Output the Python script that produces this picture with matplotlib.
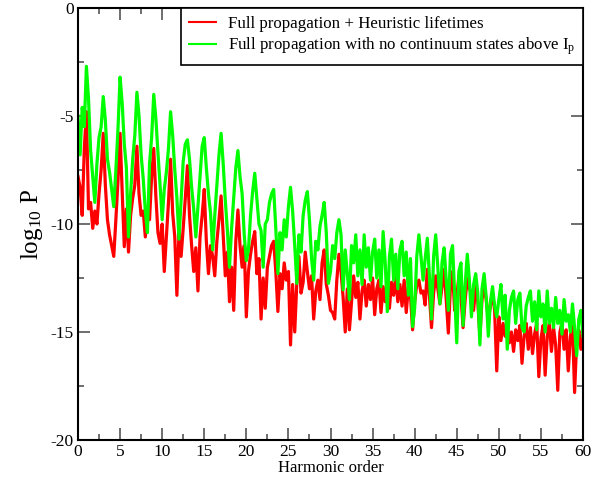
import numpy as np
import matplotlib
matplotlib.use("Agg")
import matplotlib.pyplot as plt
from matplotlib.ticker import MultipleLocator

plt.rcParams['font.family'] = ['Liberation Serif', 'DejaVu Serif']
plt.rcParams['mathtext.fontset'] = 'custom'
plt.rcParams['mathtext.rm'] = 'Liberation Serif'
plt.rcParams['mathtext.it'] = 'Liberation Serif:italic'
plt.rcParams['axes.unicode_minus'] = False

# log10 P, sampled every 0.25 harmonic order from 0 to 60
green = [
    -5.0, -6.8, -4.6, -5.5, -2.7, -4.2, -6.6, -7.8,
    -9.0, -7.2, -6.0, -5.5, -4.1, -5.2, -7.0, -7.6,
    -8.4, -9.2, -7.5, -5.6, -3.2, -4.4, -6.3, -7.4,
    -10.6, -8.6, -7.0, -5.9, -3.9, -5.0, -6.8, -7.9,
    -9.4, -10.4, -7.2, -6.0, -4.0, -5.1, -6.7, -8.2,
    -9.8, -8.4, -7.6, -6.5, -4.8, -5.9, -7.5, -8.8,
    -10.7, -8.9, -7.1, -6.3, -6.1, -7.0, -8.3, -9.3,
    -10.6, -9.2, -7.8, -6.4, -6.0, -7.4, -8.6, -9.5,
    -11.2, -9.6, -8.2, -6.8, -5.8, -7.2, -8.9, -10.3,
    -12.0, -10.2, -8.8, -7.4, -6.6, -7.8, -8.6, -10.5,
    -11.7, -11.2, -9.6, -8.5, -7.65, -8.8, -10.0, -10.3,
    -12.0, -10.0, -9.8, -9.0, -8.6, -8.4, -10.2, -12.3,
    -10.4, -11.2, -9.8, -10.6, -9.2, -8.3, -9.4, -11.0,
    -12.75, -10.5, -11.3, -9.6, -8.9, -8.5, -9.8, -11.6,
    -12.6, -10.8, -11.2, -10.1, -9.6, -9.0, -10.4, -12.75,
    -12.2, -11.0, -11.6, -10.4, -9.8, -10.5, -13.05, -11.2,
    -12.3, -13.5, -11.0, -11.8, -10.5, -12.4, -11.2, -12.8,
    -10.5, -12.0, -11.1, -12.6, -11.3, -10.7, -12.5, -11.2,
    -12.9, -10.35, -11.8, -14.06, -11.5, -10.7, -12.6, -11.4,
    -13.0, -11.2, -10.8, -12.4, -11.3, -13.3, -11.6, -14.75,
    -13.9, -11.5, -10.5, -11.5, -12.6, -11.6, -10.66, -12.4,
    -14.4, -11.5, -10.5, -12.0, -13.7, -11.8, -11.1, -12.6,
    -14.0, -11.4, -11.0, -13.2, -15.5, -12.2, -11.8, -14.7,
    -12.8, -11.4, -12.6, -14.3, -12.8, -12.3, -13.2, -15.6,
    -13.0, -12.3, -13.4, -15.2, -13.6, -12.9, -13.8, -14.3,
    -13.5, -12.8, -14.4, -13.3, -15.8, -14.0, -13.4, -13.1,
    -14.6, -13.5, -13.2, -14.8, -15.0, -13.8, -13.4, -13.1,
    -14.5, -13.6, -14.9, -13.1, -14.3, -13.7, -15.0, -13.1,
    -14.6, -13.9, -14.8, -13.4, -14.6, -14.0, -15.1, -13.5,
    -14.5, -14.2, -15.0, -13.7, -14.8, -16.1, -14.4, -14.0,
    -15.2,
]

red = [
    -7.8, -8.3, -9.6, -6.5, -4.8, -9.3, -9.0, -10.2,
    -9.4, -10.0, -8.6, -7.5, -5.8, -8.2, -9.8, -10.5,
    -11.0, -11.5, -9.8, -8.0, -5.8, -8.5, -11.05, -9.3,
    -11.3, -9.6, -8.8, -8.2, -6.4, -8.6, -9.6, -9.4,
    -10.6, -9.2, -9.8, -7.8, -6.5, -8.7, -10.4, -10.9,
    -10.0, -12.2, -10.6, -9.0, -7.0, -9.5, -10.6, -13.3,
    -10.4, -11.5, -10.2, -8.8, -7.3, -9.6, -11.0, -12.2,
    -11.1, -13.1, -10.6, -9.6, -8.4, -10.8, -12.3, -11.0,
    -11.5, -12.4, -10.8, -9.8, -8.7, -10.5, -12.4, -11.3,
    -13.6, -12.0, -14.0, -10.8, -9.35, -11.0, -12.0, -11.0,
    -14.3, -12.2, -11.4, -10.8, -10.35, -12.3, -11.6, -14.4,
    -12.5, -13.9, -12.0, -11.5, -11.0, -10.8, -12.2, -14.05,
    -12.3, -13.0, -11.8, -12.6, -12.2, -15.6, -12.8, -15.0,
    -12.7, -11.5, -13.2, -12.7, -11.3, -12.2, -13.0, -12.4,
    -14.4, -13.1, -12.6, -13.5, -11.8, -11.2, -12.8, -13.3,
    -14.0, -14.1, -14.4, -12.6, -11.4, -12.2, -13.4, -15.0,
    -13.0, -14.9, -13.6, -12.4, -13.4, -12.7, -14.4, -13.1,
    -12.6, -13.8, -12.8, -13.5, -12.5, -14.2, -13.0, -12.6,
    -14.1, -12.9, -13.6, -12.6, -13.9, -12.7, -13.3, -12.5,
    -13.6, -12.8, -13.8, -12.6, -14.1, -12.9, -13.3, -14.9,
    -13.6, -12.8, -12.6, -13.2, -13.1, -13.75, -12.1, -13.3,
    -14.8, -13.2, -12.4, -13.0, -13.7, -12.9, -12.1, -13.5,
    -15.05, -12.9, -12.2, -14.0, -13.4, -12.4, -13.3, -14.8,
    -13.5, -12.5, -13.0, -13.2, -14.0, -12.9, -13.6, -15.2,
    -13.5, -12.9, -13.5, -14.4, -13.8, -13.2, -14.0, -16.8,
    -14.3, -15.4, -14.6, -15.2, -14.7, -15.5, -15.0, -15.9,
    -14.9, -15.4, -14.7, -16.45, -15.2, -14.6, -15.8, -14.8,
    -16.0, -15.1, -14.6, -17.07, -15.3, -14.7, -17.0, -15.2,
    -14.6, -15.9, -14.8, -15.6, -17.7, -15.0, -14.6, -15.8,
    -14.9, -16.8, -15.2, -14.7, -17.8, -15.4, -14.9, -15.8,
    -15.0,
]

harm_green = np.linspace(0, 60, len(green))
harm_red = np.linspace(0, 60, len(red))

fig = plt.figure(figsize=(5.94, 4.86), dpi=100)
ax = fig.add_axes([0.1313, 0.0947, 0.8502, 0.8888])

ax.plot(harm_red, red, color='#ff0000', lw=2.3,
        label='Full propagation + Heuristic lifetimes')
ax.plot(harm_green, green, color='#00ff00', lw=2.3,
        label='Full propagation with no continuum states above I$_\\mathrm{p}$')

ax.set_xlim(0, 60)
ax.set_ylim(-20, 0)
ax.xaxis.set_major_locator(MultipleLocator(5))
ax.xaxis.set_minor_locator(MultipleLocator(2.5))
ax.yaxis.set_major_locator(MultipleLocator(5))
ax.yaxis.set_minor_locator(MultipleLocator(2.5))
ax.tick_params(which='both', direction='in', top=True, right=True,
               labelsize=12.5, color='#555555', width=1.2)
ax.tick_params(which='major', length=8.5, pad=3)
ax.tick_params(which='minor', length=4.5)
for s in ax.spines.values():
    s.set_linewidth(1.5)

ax.set_xlabel('Harmonic order', fontsize=12, labelpad=0)
ax.set_ylabel('log$_{10}$ P', fontsize=18, labelpad=4)

leg = ax.legend(loc='upper right', fontsize=12.2, frameon=True, fancybox=False,
                borderaxespad=0, handlelength=1.6, handletextpad=0.7,
                borderpad=0.45, labelspacing=0.25)
leg.get_frame().set_edgecolor('black')
leg.get_frame().set_linewidth(1.2)
leg.get_frame().set_alpha(1)
for l in leg.get_lines():
    l.set_linewidth(1.5)

fig.savefig('out.png', dpi=100)
